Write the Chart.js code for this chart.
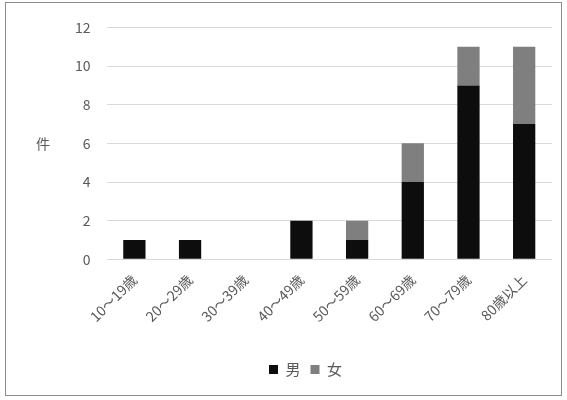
<!DOCTYPE html>
<html>
<head>
<meta charset="utf-8">
<script src="https://cdn.jsdelivr.net/npm/chart.js@4/dist/chart.umd.min.js"></script>
<style>
  html, body { margin: 0; padding: 0; background: #fff; }
  #wrap {
    position: absolute; left: 5px; top: 2px;
    width: 555px; height: 392px;
    border: 1px solid #8c8c8c;
  }
</style>
</head>
<body>
<div id="wrap"><canvas id="chart"></canvas></div>
<script>
const ageGroups = ['10～19歳', '20～29歳', '30～39歳', '40～49歳', '50～59歳', '60～69歳', '70～79歳', '80歳以上']
const maleCounts = [1, 1, 0, 2, 1, 4, 9, 7]
const femaleCounts = [0, 0, 0, 0, 1, 2, 2, 4]
const yMax = 12
const yStep = 2

const font = "'Noto Sans CJK JP', 'Noto Sans', sans-serif"
const textColor = '#595959'

// unrotated "件" beside the value axis
const unitLabel = {
  id: 'unitLabel',
  afterDraw(chart) {
    const { ctx, chartArea } = chart
    ctx.save()
    ctx.font = '14px ' + font
    ctx.fillStyle = textColor
    ctx.textAlign = 'center'
    ctx.textBaseline = 'middle'
    ctx.fillText('件', 37, (chartArea.top + chartArea.bottom) / 2)
    ctx.restore()
  }
}

new Chart(document.getElementById('chart'), {
  type: 'bar',
  data: {
    labels: ageGroups,
    datasets: [
      { label: '男', data: maleCounts, backgroundColor: '#0d0d0d' },
      { label: '女', data: femaleCounts, backgroundColor: '#7f7f7f' }
    ]
  },
  options: {
    responsive: true,
    maintainAspectRatio: false,
    animation: false,
    datasets: { bar: { categoryPercentage: 1, barPercentage: 0.4 } },
    layout: { padding: { left: 53, right: 9, top: 9, bottom: 8 } },
    scales: {
      x: {
        stacked: true,
        grid: { display: false },
        border: { display: false },
        ticks: {
          color: textColor, font: { family: font, size: 14 },
          minRotation: 45, maxRotation: 45, padding: 4
        },
        // leave a gap between the slanted labels and the legend
        afterFit(scale) { scale.height += 23 }
      },
      y: {
        stacked: true,
        min: 0, max: yMax,
        grid: { color: '#d9d9d9', drawTicks: false },
        border: { display: false },
        ticks: {
          stepSize: yStep, color: textColor, padding: 16,
          font: { family: font, size: 14 }
        }
      }
    },
    plugins: {
      legend: {
        position: 'bottom',
        labels: {
          boxWidth: 9, boxHeight: 9, padding: 10,
          color: textColor, font: { family: font, size: 15 }
        }
      },
      tooltip: { enabled: false }
    }
  },
  plugins: [unitLabel]
})
</script>
</body>
</html>
